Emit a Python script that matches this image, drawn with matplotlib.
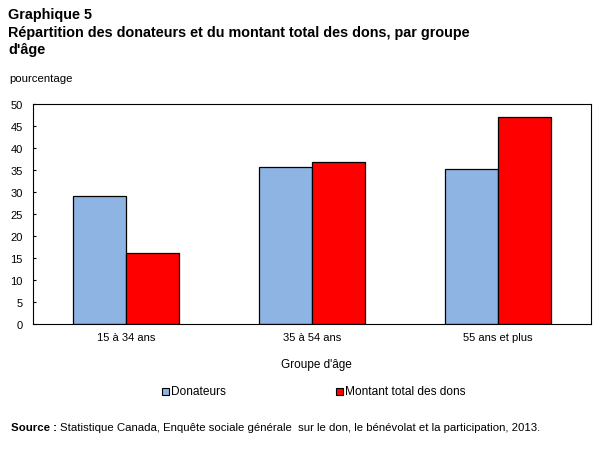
import matplotlib
matplotlib.use("Agg")
import matplotlib.pyplot as plt
from matplotlib.patches import Rectangle
import numpy as np

plt.rcParams['font.family'] = ['Liberation Sans', 'DejaVu Sans']

categories = ["15 à 34 ans", "35 à 54 ans", "55 ans et plus"]
series_names = ["Donateurs", "Montant total des dons"]
donateurs = [29.2, 35.6, 35.2]
montant = [16.1, 36.9, 47.0]
yticks = [0, 5, 10, 15, 20, 25, 30, 35, 40, 45, 50]

W, H = 607, 456
fig = plt.figure(figsize=(W / 100, H / 100), dpi=100)
ax = fig.add_axes([33.3 / W, 1 - 325 / H, (590.7 - 33.3) / W, 220 / H])

x = np.arange(len(categories))
bw = 1 / 3.5
c_blue = "#8EB4E3"
c_red = "#FF0000"
ax.bar(x - bw / 2, donateurs, bw, color=c_blue, edgecolor="black", linewidth=0.9)
ax.bar(x + bw / 2, montant, bw, color=c_red, edgecolor="black", linewidth=0.9)

ax.set_xlim(-0.5, len(categories) - 0.5)
ax.set_ylim(0, 50)
ax.set_yticks(yticks)
ax.set_yticklabels([str(v) for v in yticks], fontsize=8)
ax.set_xticks(x)
ax.set_xticklabels(categories, fontsize=8)
ax.tick_params(axis='y', direction='in', length=2.5, width=0.8, pad=7.5)
ax.tick_params(axis='x', length=0, pad=6)
for s in ax.spines.values():
    s.set_linewidth(0.8)
    s.set_color("black")

# Titles
tfs = 10.4
fig.text(8 / W, 1 - 15.5 / H, "Graphique 5", fontsize=tfs, fontweight='bold', va='center', ha='left')
fig.text(8 / W, 1 - 33 / H, "Répartition des donateurs et du montant total des dons, par groupe",
         fontsize=tfs, fontweight='bold', va='center', ha='left')
fig.text(8 / W, 1 - 50 / H, "d'âge", fontsize=tfs, fontweight='bold', va='center', ha='left')
fig.text(9 / W, 1 - 79 / H, "pourcentage", fontsize=8.2, va='center', ha='left')

# Axis title
fig.text(316.5 / W, 1 - 365 / H, "Groupe d'âge", fontsize=8.5, va='center', ha='center')

# Legend
leg_items = [(162, c_blue, series_names[0]), (336, c_red, series_names[1])]
for lx, col, lab in leg_items:
    fig.patches.append(Rectangle((lx / W, 1 - 396 / H), 7 / W, 7 / H, transform=fig.transFigure,
                                 facecolor=col, edgecolor='black', linewidth=0.8))
    fig.text((lx + 9) / W, 1 - 392 / H, lab, fontsize=8.6, va='center', ha='left')

# Source
sfs = 8.2
t = fig.text(11 / W, 1 - 428 / H, "Source :", fontsize=sfs, fontweight='bold', va='center', ha='left')
fig.canvas.draw()
bb = t.get_window_extent()
fig.text((bb.x1 + 3) / W, 1 - 428 / H,
         "Statistique Canada, Enquête sociale générale  sur le don, le bénévolat et la participation, 2013.",
         fontsize=sfs, va='center', ha='left')

fig.savefig("out.png", dpi=100)
